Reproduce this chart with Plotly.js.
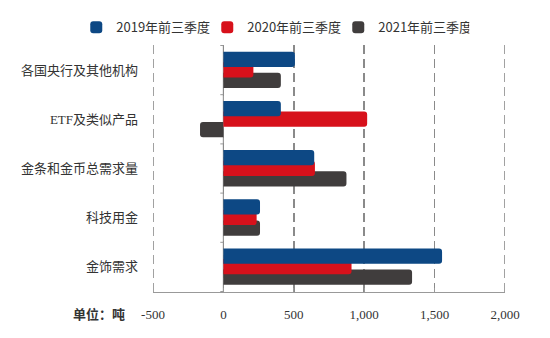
<!DOCTYPE html>
<html>
<head>
<meta charset="utf-8">
<script src="https://cdn.plot.ly/plotly-3.0.1.min.js"></script>
<style>html,body{margin:0;padding:0;background:#fff;}#chart{width:550px;height:338px;}</style>
</head>
<body>
<div id="chart"></div>
<script>
const categories = ['各国央行及其他机构', 'ETF及类似产品', '金条和金币总需求量', '科技用金', '金饰需求'];
const seriesNames = ['2019年前三季度', '2020年前三季度', '2021年前三季度'];
const values2019 = [508, 408, 645, 260, 1553];
const values2020 = [213, 1021, 650, 236, 910];
const values2021 = [408, -166, 874, 260, 1340];
const xTicks = [-500, 0, 500, 1000, 1500, 2000];
const xTickText = ['-500', '0', '500', '1,000', '1,500', '2,000'];

const colors = ['#0d4884', '#d7111b', '#403d3d'];
const offsets = [-0.374, -0.16, 0.055];
const allValues = [values2019, values2020, values2021];

const serif = 'Liberation Serif, Noto Sans CJK SC, serif';
const sans = 'Noto Sans CJK SC, Liberation Sans, sans-serif';
const gridDash = '9px,5px';
const gridColor = '#8a8a8a';

// draw order: 2021 first, then 2020, 2019 on top
const traces = [2, 1, 0].map(i => ({
  type: 'bar',
  orientation: 'h',
  name: seriesNames[i],
  y: categories,
  x: allValues[i],
  width: 0.31,
  offset: offsets[i],
  marker: {color: colors[i], cornerradius: 3},
  hoverinfo: 'x+y+name'
}));

const shapes = [];
// dashed gridlines at the range edges (Plotly omits grid at the plot edges)
[xTicks[0], xTicks[xTicks.length - 1]].forEach(v => {
  shapes.push({type: 'line', xref: 'x', yref: 'paper', x0: v, x1: v, y0: 0, y1: 1,
    line: {color: gridColor, width: 1.6, dash: gridDash}, layer: 'below'});
});
// small tick marks at category boundaries on the zero axis
for (let k = 0; k <= categories.length; k++) {
  shapes.push({type: 'line', xref: 'x', yref: 'y', x0: -22, x1: 0, y0: k - 0.5, y1: k - 0.5,
    line: {color: '#999', width: 1}});
}
shapes.push({type: 'line', xref: 'x', yref: 'paper', x0: 0, x1: 0, y0: 0, y1: 1,
  line: {color: '#999', width: 1.2}, layer: 'below'});

const layout = {
  width: 550, height: 338,
  margin: {l: 153, r: 45, t: 42, b: 46},
  paper_bgcolor: '#fff', plot_bgcolor: '#fff',
  barmode: 'overlay',
  showlegend: true,
  legend: {
    orientation: 'h', x: -0.218, xanchor: 'left', y: 1.072, yanchor: 'middle',
    traceorder: 'reversed',
    font: {family: sans, size: 13, color: '#333'},
    entrywidth: 86, entrywidthmode: 'pixels',
    itemwidth: 30
  },
  xaxis: {
    range: [-500, 2000],
    tickvals: xTicks, ticktext: xTickText,
    showgrid: true, gridcolor: gridColor, griddash: gridDash, gridwidth: 1.6,
    zeroline: false,
    showline: true, linecolor: '#999', linewidth: 1.2,
    ticks: 'inside', ticklen: 4, tickcolor: '#999',
    ticklabelstandoff: 10,
    tickfont: {family: serif, size: 13, color: '#333'},
    fixedrange: true
  },
  yaxis: {
    type: 'category',
    categoryorder: 'array', categoryarray: categories,
    autorange: 'reversed',
    showgrid: false, zeroline: false, showline: false,
    ticks: '',
    ticklabelstandoff: 14,
    tickfont: {family: serif, size: 13, color: '#333'},
    fixedrange: true
  },
  shapes: shapes,
  annotations: [{
    text: '<b>单位：吨</b>', xref: 'paper', yref: 'paper',
    x: -0.074, xanchor: 'right', y: -0.088, yanchor: 'middle',
    showarrow: false, font: {family: sans, size: 13, color: '#333'}
  }]
};

Plotly.newPlot('chart', traces, layout, {displayModeBar: false, staticPlot: true});
</script>
</body>
</html>
